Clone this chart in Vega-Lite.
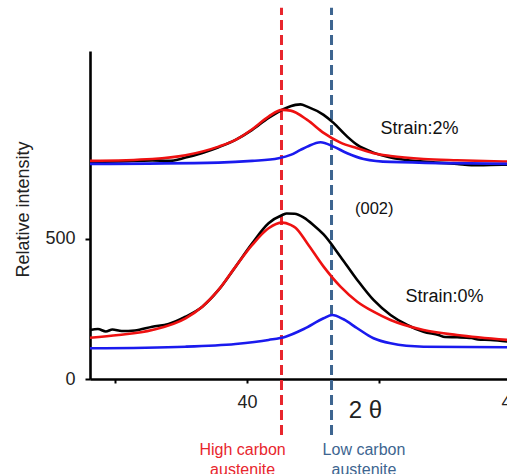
{
  "$schema": "https://vega.github.io/schema/vega-lite/v6.json",
  "width": 421,
  "height": 328,
  "autosize": {"type": "none"},
  "padding": {"left": 90, "top": 51, "right": -4, "bottom": 95},
  "background": "white",
  "config": {
    "view": {"stroke": null},
    "font": "Liberation Sans",
    "axis": {"grid": false, "domainColor": "black", "domainWidth": 2.6, "tickColor": "black", "tickWidth": 2, "tickSize": 4, "labelFont": "Liberation Sans", "labelFontSize": 18, "labelColor": "#222", "titleFont": "Liberation Sans", "titleFontWeight": "normal", "titleColor": "#222"}
  },
  "datasets": {
    "curves": [
      {"x": 38.81, "y": 775, "strain": "2%", "series": "Measured"},
      {"x": 39.027, "y": 776.8, "strain": "2%", "series": "Measured"},
      {"x": 39.282, "y": 780.4, "strain": "2%", "series": "Measured"},
      {"x": 39.405, "y": 778.6, "strain": "2%", "series": "Measured"},
      {"x": 39.534, "y": 790.4, "strain": "2%", "series": "Measured"},
      {"x": 39.661, "y": 807.1, "strain": "2%", "series": "Measured"},
      {"x": 39.784, "y": 827.5, "strain": "2%", "series": "Measured"},
      {"x": 39.913, "y": 853.6, "strain": "2%", "series": "Measured"},
      {"x": 40.039, "y": 889.3, "strain": "2%", "series": "Measured"},
      {"x": 40.163, "y": 932.1, "strain": "2%", "series": "Measured"},
      {"x": 40.292, "y": 966.8, "strain": "2%", "series": "Measured"},
      {"x": 40.367, "y": 978.6, "strain": "2%", "series": "Measured"},
      {"x": 40.405, "y": 980.4, "strain": "2%", "series": "Measured"},
      {"x": 40.456, "y": 972.5, "strain": "2%", "series": "Measured"},
      {"x": 40.58, "y": 942.9, "strain": "2%", "series": "Measured"},
      {"x": 40.655, "y": 914.3, "strain": "2%", "series": "Measured"},
      {"x": 40.759, "y": 865.4, "strain": "2%", "series": "Measured"},
      {"x": 40.835, "y": 835.7, "strain": "2%", "series": "Measured"},
      {"x": 40.958, "y": 808.2, "strain": "2%", "series": "Measured"},
      {"x": 41.087, "y": 790.4, "strain": "2%", "series": "Measured"},
      {"x": 41.337, "y": 776, "strain": "2%", "series": "Measured"},
      {"x": 41.592, "y": 767.9, "strain": "2%", "series": "Measured"},
      {"x": 41.7, "y": 763, "strain": "2%", "series": "Measured"},
      {"x": 41.845, "y": 764.3, "strain": "2%", "series": "Measured"},
      {"x": 42.0, "y": 765.4, "strain": "2%", "series": "Measured"},

      {"x": 38.81, "y": 778.6, "strain": "2%", "series": "High carbon"},
      {"x": 39.282, "y": 785.7, "strain": "2%", "series": "High carbon"},
      {"x": 39.534, "y": 798.9, "strain": "2%", "series": "High carbon"},
      {"x": 39.784, "y": 829.6, "strain": "2%", "series": "High carbon"},
      {"x": 39.913, "y": 853.6, "strain": "2%", "series": "High carbon"},
      {"x": 40.039, "y": 891.8, "strain": "2%", "series": "High carbon"},
      {"x": 40.163, "y": 936.8, "strain": "2%", "series": "High carbon"},
      {"x": 40.267, "y": 960.7, "strain": "2%", "series": "High carbon"},
      {"x": 40.33, "y": 958.2, "strain": "2%", "series": "High carbon"},
      {"x": 40.456, "y": 925, "strain": "2%", "series": "High carbon"},
      {"x": 40.58, "y": 878.6, "strain": "2%", "series": "High carbon"},
      {"x": 40.708, "y": 843.9, "strain": "2%", "series": "High carbon"},
      {"x": 40.835, "y": 823.9, "strain": "2%", "series": "High carbon"},
      {"x": 40.958, "y": 806.1, "strain": "2%", "series": "High carbon"},
      {"x": 41.087, "y": 796.4, "strain": "2%", "series": "High carbon"},
      {"x": 41.337, "y": 785.7, "strain": "2%", "series": "High carbon"},
      {"x": 41.592, "y": 781, "strain": "2%", "series": "High carbon"},
      {"x": 42.0, "y": 776, "strain": "2%", "series": "High carbon"},

      {"x": 38.81, "y": 767.9, "strain": "2%", "series": "Low carbon"},
      {"x": 39.784, "y": 772.5, "strain": "2%", "series": "Low carbon"},
      {"x": 40.039, "y": 778.6, "strain": "2%", "series": "Low carbon"},
      {"x": 40.239, "y": 788.2, "strain": "2%", "series": "Low carbon"},
      {"x": 40.33, "y": 800, "strain": "2%", "series": "Low carbon"},
      {"x": 40.405, "y": 817.9, "strain": "2%", "series": "Low carbon"},
      {"x": 40.456, "y": 829.6, "strain": "2%", "series": "Low carbon"},
      {"x": 40.557, "y": 845.4, "strain": "2%", "series": "Low carbon"},
      {"x": 40.655, "y": 829.6, "strain": "2%", "series": "Low carbon"},
      {"x": 40.759, "y": 806.1, "strain": "2%", "series": "Low carbon"},
      {"x": 40.883, "y": 785.7, "strain": "2%", "series": "Low carbon"},
      {"x": 41.087, "y": 775, "strain": "2%", "series": "Low carbon"},
      {"x": 42.0, "y": 767.9, "strain": "2%", "series": "Low carbon"},

      {"x": 38.81, "y": 175, "strain": "0%", "series": "Measured"},
      {"x": 38.87, "y": 178.6, "strain": "0%", "series": "Measured"},
      {"x": 38.93, "y": 169.6, "strain": "0%", "series": "Measured"},
      {"x": 38.98, "y": 176.8, "strain": "0%", "series": "Measured"},
      {"x": 39.05, "y": 171.4, "strain": "0%", "series": "Measured"},
      {"x": 39.15, "y": 173.2, "strain": "0%", "series": "Measured"},
      {"x": 39.282, "y": 186.8, "strain": "0%", "series": "Measured"},
      {"x": 39.405, "y": 196.4, "strain": "0%", "series": "Measured"},
      {"x": 39.534, "y": 222.5, "strain": "0%", "series": "Measured"},
      {"x": 39.661, "y": 258.2, "strain": "0%", "series": "Measured"},
      {"x": 39.784, "y": 317.9, "strain": "0%", "series": "Measured"},
      {"x": 39.913, "y": 401.1, "strain": "0%", "series": "Measured"},
      {"x": 40.039, "y": 484.6, "strain": "0%", "series": "Measured"},
      {"x": 40.163, "y": 556.1, "strain": "0%", "series": "Measured"},
      {"x": 40.267, "y": 585.7, "strain": "0%", "series": "Measured"},
      {"x": 40.3, "y": 591, "strain": "0%", "series": "Measured"},
      {"x": 40.36, "y": 590, "strain": "0%", "series": "Measured"},
      {"x": 40.43, "y": 576, "strain": "0%", "series": "Measured"},
      {"x": 40.5, "y": 551, "strain": "0%", "series": "Measured"},
      {"x": 40.58, "y": 516, "strain": "0%", "series": "Measured"},
      {"x": 40.708, "y": 436.8, "strain": "0%", "series": "Measured"},
      {"x": 40.835, "y": 353.6, "strain": "0%", "series": "Measured"},
      {"x": 40.958, "y": 282.1, "strain": "0%", "series": "Measured"},
      {"x": 41.087, "y": 228.6, "strain": "0%", "series": "Measured"},
      {"x": 41.214, "y": 192.9, "strain": "0%", "series": "Measured"},
      {"x": 41.337, "y": 168.9, "strain": "0%", "series": "Measured"},
      {"x": 41.45, "y": 157, "strain": "0%", "series": "Measured"},
      {"x": 41.5, "y": 150, "strain": "0%", "series": "Measured"},
      {"x": 41.592, "y": 148.9, "strain": "0%", "series": "Measured"},
      {"x": 41.7, "y": 146.4, "strain": "0%", "series": "Measured"},
      {"x": 41.75, "y": 141, "strain": "0%", "series": "Measured"},
      {"x": 41.845, "y": 139.3, "strain": "0%", "series": "Measured"},
      {"x": 42.0, "y": 132, "strain": "0%", "series": "Measured"},

      {"x": 38.81, "y": 147.5, "strain": "0%", "series": "High carbon"},
      {"x": 39.027, "y": 157.1, "strain": "0%", "series": "High carbon"},
      {"x": 39.282, "y": 175, "strain": "0%", "series": "High carbon"},
      {"x": 39.534, "y": 216.8, "strain": "0%", "series": "High carbon"},
      {"x": 39.661, "y": 258.2, "strain": "0%", "series": "High carbon"},
      {"x": 39.784, "y": 317.9, "strain": "0%", "series": "High carbon"},
      {"x": 39.913, "y": 401.1, "strain": "0%", "series": "High carbon"},
      {"x": 40.039, "y": 478.6, "strain": "0%", "series": "High carbon"},
      {"x": 40.163, "y": 538.2, "strain": "0%", "series": "High carbon"},
      {"x": 40.267, "y": 558.2, "strain": "0%", "series": "High carbon"},
      {"x": 40.33, "y": 550, "strain": "0%", "series": "High carbon"},
      {"x": 40.367, "y": 540, "strain": "0%", "series": "High carbon"},
      {"x": 40.456, "y": 484.6, "strain": "0%", "series": "High carbon"},
      {"x": 40.58, "y": 401.1, "strain": "0%", "series": "High carbon"},
      {"x": 40.708, "y": 329.6, "strain": "0%", "series": "High carbon"},
      {"x": 40.835, "y": 276.1, "strain": "0%", "series": "High carbon"},
      {"x": 40.958, "y": 240.4, "strain": "0%", "series": "High carbon"},
      {"x": 41.087, "y": 210.7, "strain": "0%", "series": "High carbon"},
      {"x": 41.337, "y": 175, "strain": "0%", "series": "High carbon"},
      {"x": 41.592, "y": 157.1, "strain": "0%", "series": "High carbon"},
      {"x": 42.0, "y": 138.5, "strain": "0%", "series": "High carbon"},

      {"x": 38.81, "y": 109.6, "strain": "0%", "series": "Low carbon"},
      {"x": 39.534, "y": 115.4, "strain": "0%", "series": "Low carbon"},
      {"x": 39.913, "y": 125, "strain": "0%", "series": "Low carbon"},
      {"x": 40.163, "y": 139.3, "strain": "0%", "series": "Low carbon"},
      {"x": 40.292, "y": 151.1, "strain": "0%", "series": "Low carbon"},
      {"x": 40.43, "y": 178.6, "strain": "0%", "series": "Low carbon"},
      {"x": 40.58, "y": 216.8, "strain": "0%", "series": "Low carbon"},
      {"x": 40.645, "y": 228.6, "strain": "0%", "series": "Low carbon"},
      {"x": 40.731, "y": 213.2, "strain": "0%", "series": "Low carbon"},
      {"x": 40.835, "y": 181.1, "strain": "0%", "series": "Low carbon"},
      {"x": 40.958, "y": 145.4, "strain": "0%", "series": "Low carbon"},
      {"x": 41.087, "y": 127.5, "strain": "0%", "series": "Low carbon"},
      {"x": 41.337, "y": 115.4, "strain": "0%", "series": "Low carbon"},
      {"x": 42.0, "y": 113.2, "strain": "0%", "series": "Low carbon"}
    ],
    "phases": [
      {"x": 40.261, "y": -200, "y2": 1325, "lx": 39.966, "ly": -226, "phase": "High carbon", "label": ["High carbon", "austenite"]},
      {"x": 40.64, "y": -200, "y2": 1325, "lx": 40.886, "ly": -226, "phase": "Low carbon", "label": ["Low carbon", "austenite"]}
    ],
    "notes": [
      {"x": 41.307, "y": 893, "label": "Strain:2%", "size": "big"},
      {"x": 40.964, "y": 607, "label": "(002)", "size": "small"},
      {"x": 41.496, "y": 294, "label": "Strain:0%", "size": "big"}
    ]
  },
  "layer": [
    {
      "data": {"name": "phases"},
      "mark": {"type": "rule", "strokeWidth": 3, "strokeDash": [10, 5]},
      "encoding": {
        "x": {"field": "x", "type": "quantitative", "scale": {"domain": [38.81, 42.0], "nice": false, "zero": false},
          "axis": {"values": [39, 40, 41, 42], "format": "d", "labelExpr": "datum.value % 2 == 0 ? datum.label : ''", "title": "2 θ", "titleFontSize": 24, "titleX": 275, "titleY": 31, "titleBaseline": "middle", "titleAlign": "center", "labelPadding": 10, "labelFlush": false, "labelOverlap": false}},
        "y": {"field": "y", "type": "quantitative", "scale": {"domain": [0, 1171], "nice": false},
          "axis": {"values": [0, 500], "title": "Relative intensity", "titleFontSize": 18, "titleX": -67, "titleY": 158, "titleAngle": -90, "titleAlign": "center", "titleBaseline": "middle", "labelPadding": 10, "tickSize": 5}},
        "y2": {"field": "y2"},
        "color": {"field": "phase", "type": "nominal", "scale": {"domain": ["High carbon", "Low carbon"], "range": ["#e8262d", "#3d6590"]}, "legend": null}
      }
    },
    {
      "data": {"name": "phases"},
      "mark": {"type": "text", "fontSize": 16, "baseline": "top", "align": "center", "lineHeight": 20},
      "encoding": {
        "x": {"field": "lx", "type": "quantitative"},
        "y": {"field": "ly", "type": "quantitative"},
        "text": {"field": "label"},
        "color": {"field": "phase", "type": "nominal", "scale": {"domain": ["High carbon", "Low carbon"], "range": ["#e03a40", "#4a7db3"]}, "legend": null}
      }
    },
    {
      "data": {"name": "curves"},
      "transform": [{"filter": "datum.series == 'Measured'"}],
      "mark": {"type": "line", "strokeWidth": 2.6, "interpolate": "monotone"},
      "encoding": {
        "x": {"field": "x", "type": "quantitative"},
        "y": {"field": "y", "type": "quantitative"},
        "detail": {"field": "strain"},
        "color": {"value": "#000000"}
      }
    },
    {
      "data": {"name": "curves"},
      "transform": [{"filter": "datum.series == 'High carbon'"}],
      "mark": {"type": "line", "strokeWidth": 2.6, "interpolate": "monotone"},
      "encoding": {
        "x": {"field": "x", "type": "quantitative"},
        "y": {"field": "y", "type": "quantitative"},
        "detail": {"field": "strain"},
        "color": {"value": "#ee1111"}
      }
    },
    {
      "data": {"name": "curves"},
      "transform": [{"filter": "datum.series == 'Low carbon'"}],
      "mark": {"type": "line", "strokeWidth": 2.6, "interpolate": "monotone"},
      "encoding": {
        "x": {"field": "x", "type": "quantitative"},
        "y": {"field": "y", "type": "quantitative"},
        "detail": {"field": "strain"},
        "color": {"value": "#1a1aee"}
      }
    },
    {
      "data": {"name": "notes"},
      "mark": {"type": "text", "align": "center", "baseline": "middle", "color": "#111"},
      "encoding": {
        "x": {"field": "x", "type": "quantitative"},
        "y": {"field": "y", "type": "quantitative"},
        "text": {"field": "label"},
        "size": {"field": "size", "type": "nominal", "scale": {"domain": ["big", "small"], "range": [18, 16.5]}, "legend": null}
      }
    }
  ]
}
